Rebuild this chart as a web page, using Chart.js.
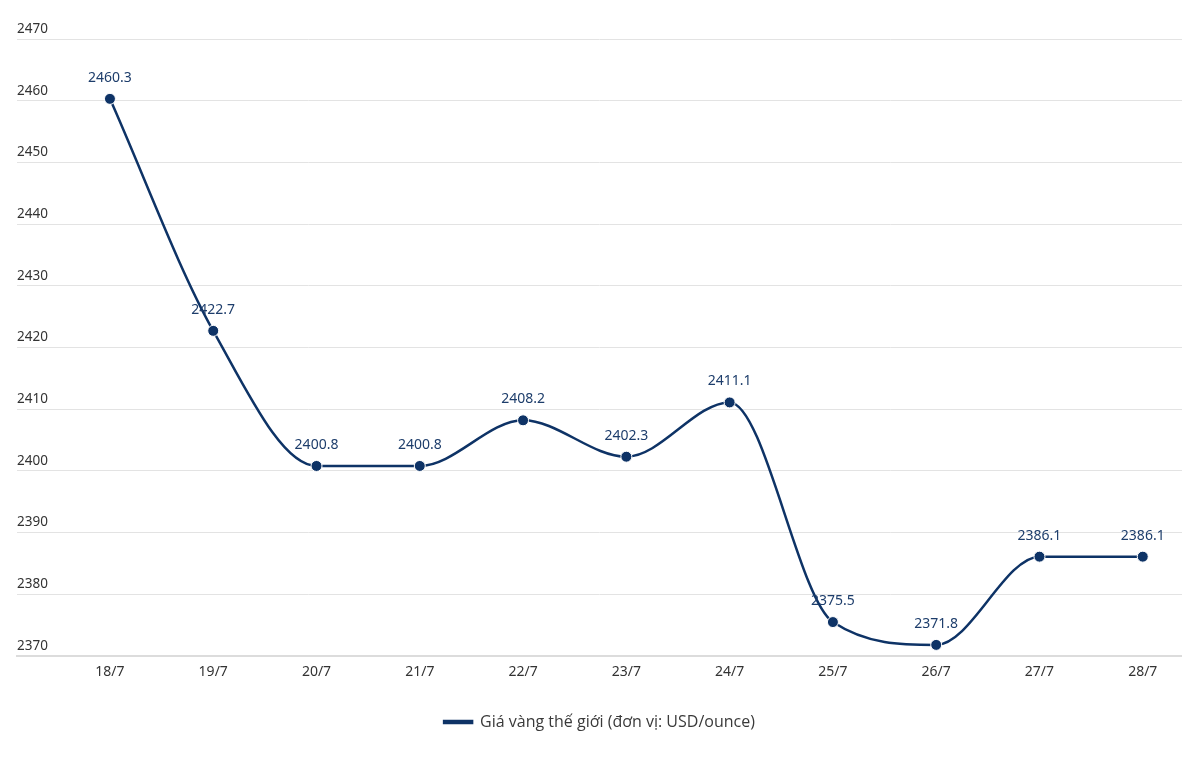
<!DOCTYPE html>
<html>
<head>
<meta charset="utf-8">
<script src="https://cdn.jsdelivr.net/npm/chart.js@4"></script>
<style>
    html, body { margin: 0; padding: 0; background: #fff; }
    #wrap { width: 1182px; height: 767px; }
</style>
</head>
<body>
<div id="wrap"><canvas id="goldChart" width="1182" height="767"></canvas></div>
<script>
// ── Data ──
const days = ['18/7', '19/7', '20/7', '21/7', '22/7', '23/7', '24/7', '25/7', '26/7', '27/7', '28/7'];
const goldPrices = [2460.3, 2422.7, 2400.8, 2400.8, 2408.2, 2402.3, 2411.1, 2375.5, 2371.8, 2386.1, 2386.1];
const yTicks = [2370, 2380, 2390, 2400, 2410, 2420, 2430, 2440, 2450, 2460, 2470];
const seriesName = 'Giá vàng thế giới (đơn vị: USD/ounce)';

const navy = '#0e3366';
const textGray = '#333333';
const font = "'Noto Sans', sans-serif";

// value labels above each point
const pointLabels = {
    id: 'pointLabels',
    afterDatasetsDraw(chart) {
        const ctx = chart.ctx;
        const meta = chart.getDatasetMeta(0);
        ctx.save();
        ctx.font = '14px ' + font;
        ctx.fillStyle = '#1d3d6b';
        ctx.textAlign = 'center';
        ctx.textBaseline = 'middle';
        meta.data.forEach(function (pt, i) {
            ctx.fillText(goldPrices[i].toFixed(1), pt.x, pt.y - 21);
        });
        ctx.restore();
    }
};

// y labels sit above their grid lines, left aligned
const yLabels = {
    id: 'yLabels',
    afterDraw(chart) {
        const ctx = chart.ctx;
        const y = chart.scales.y;
        ctx.save();
        ctx.font = '13.5px ' + font;
        ctx.fillStyle = textGray;
        ctx.textAlign = 'left';
        ctx.textBaseline = 'middle';
        yTicks.forEach(function (v) {
            ctx.fillText(String(v), chart.chartArea.left, y.getPixelForValue(v) - 10);
        });
        ctx.restore();
    }
};

const points = days.map(function (d, i) { return { x: i, y: goldPrices[i] }; });

new Chart(document.getElementById('goldChart').getContext('2d'), {
    type: 'line',
    data: {
        datasets: [{
            label: seriesName,
            data: points,
            borderColor: navy,
            backgroundColor: navy,
            borderWidth: 2.5,
            pointRadius: 5.5,
            pointHoverRadius: 5.5,
            pointBackgroundColor: navy,
            pointBorderColor: '#ffffff',
            pointBorderWidth: 1,
            cubicInterpolationMode: 'monotone',
            fill: false,
        }]
    },
    options: {
        responsive: false,
        animation: false,
        layout: { autoPadding: false, padding: { left: 17, right: 0, top: 39, bottom: 27 } },
        scales: {
            x: {
                type: 'linear',
                min: -0.9,
                max: 10.38,
                grid: { display: false },
                border: { display: true, color: '#dcdcdc', width: 2 },
                ticks: {
                    padding: 0,
                    color: textGray,
                    font: { family: font, size: 14 },
                    maxRotation: 0,
                    autoSkip: false,
                    callback: function (v) { return days[v] || ''; }
                },
                afterBuildTicks: function (s) {
                    s.ticks = days.map(function (d, i) { return { value: i }; });
                },
                afterFit: function (s) { s.height = 48; }
            },
            y: {
                min: 2370,
                max: 2470,
                ticks: { display: false, stepSize: 10 },
                grid: { color: '#e3e3e3', lineWidth: 1, drawTicks: false },
                border: { display: false },
                afterFit: function (s) { s.width = 0; }
            }
        },
        plugins: {
            legend: {
                position: 'bottom',
                labels: {
                    boxWidth: 28,
                    boxHeight: 2,
                    padding: 10,
                    color: '#3a3a3a',
                    font: { family: "'Open Sans', sans-serif", size: 16 }
                }
            },
            tooltip: { enabled: false }
        }
    },
    plugins: [pointLabels, yLabels]
});
</script>
</body>
</html>
